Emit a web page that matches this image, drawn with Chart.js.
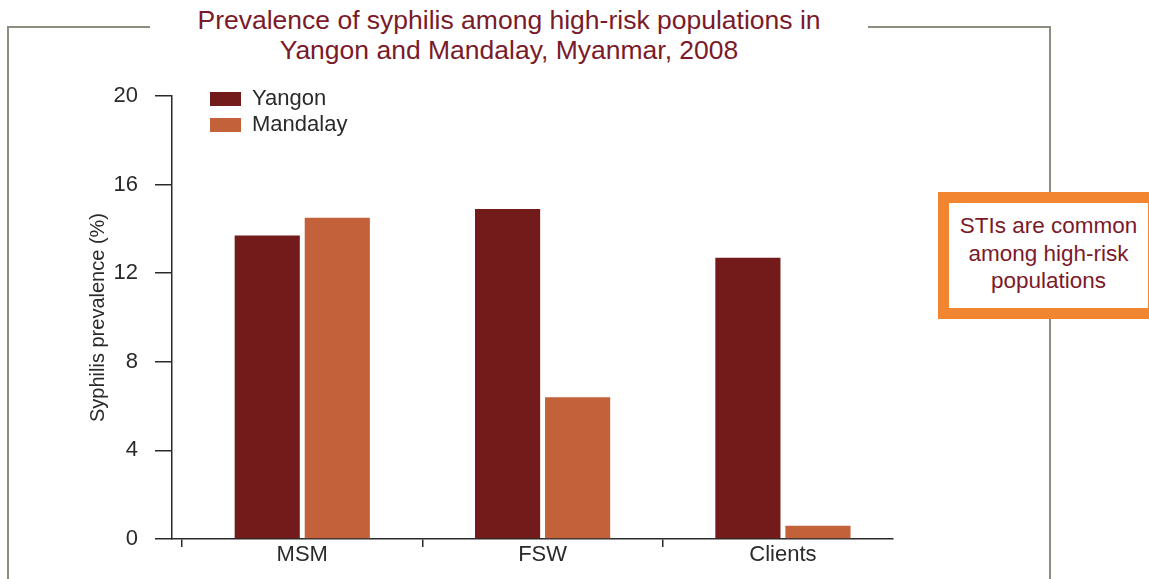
<!DOCTYPE html>
<html>
<head>
<meta charset="utf-8">
<script src="https://cdn.jsdelivr.net/npm/chart.js@4/dist/chart.umd.min.js"></script>
<style>
  html, body { margin: 0; padding: 0; background: #fff; }
  body { width: 1149px; height: 579px; position: relative; overflow: hidden; font-family: "Liberation Sans", Arial, sans-serif; }
  .frame { position: absolute; background: #8e8e80; }
  #title { position: absolute; left: 150px; width: 718px; top: 5px; text-align: center; color: #7a1a2a; font-size: 26.5px; line-height: 30px; }
  #note { position: absolute; left: 938px; top: 192px; width: 221px; height: 127px; box-sizing: border-box; border: 11px solid #f2852f; background: #fff;
          color: #7a1a2a; font-size: 22.5px; line-height: 27.5px; text-align: center; padding-top: 9px; }
  #chart { position: absolute; left: 0; top: 0; }
</style>
</head>
<body>
<div class="frame" style="left:7px; top:26px; width:2px; height:560px;"></div>
<div class="frame" style="left:7px; top:26px; width:143px; height:2px;"></div>
<div class="frame" style="left:868px; top:26px; width:183px; height:2px;"></div>
<div class="frame" style="left:1049px; top:26px; width:2px; height:560px;"></div>
<div id="title">Prevalence of syphilis among high-risk populations in<br>Yangon and Mandalay, Myanmar, 2008</div>
<canvas id="chart" width="1149" height="579"></canvas>
<div id="note">STIs are common<br>among high-risk<br>populations</div>
<script>
// ===== Data =====
var categories = ['MSM', 'FSW', 'Clients'];
var seriesNames = ['Yangon', 'Mandalay'];
var yangon   = [13.7, 14.9, 12.7];
var mandalay = [14.5, 6.4, 0.6];
var yTicks   = [0, 4, 8, 12, 16, 20];

var FONT = "'Liberation Sans', Arial, sans-serif";
var INK = '#2a2a2a';

// nudge the in-chart legend to where the original has it
var legendPlace = {
  id: 'legendPlace',
  afterLayout: function(chart) {
    if (!chart.legend) return;
    chart.legend.left = 206;
    chart.legend.top = 84;
  }
};

new Chart(document.getElementById('chart'), {
  type: 'bar',
  data: {
    labels: categories,
    datasets: [
      { label: seriesNames[0], data: yangon,   backgroundColor: '#731a1a' },
      { label: seriesNames[1], data: mandalay, backgroundColor: '#c3613a' },
    ],
  },
  options: {
    responsive: false,
    animation: false,
    categoryPercentage: 0.583,
    barPercentage: 0.93,
    layout: { padding: { left: 0, top: 96, right: 256, bottom: 0 } },
    plugins: {
      legend: {
        position: 'chartArea',
        align: 'start',
        labels: { boxWidth: 31, boxHeight: 14, padding: 4, color: INK, font: { family: FONT, size: 22 } },
      },
      tooltip: { enabled: false },
    },
    scales: {
      x: {
        grid: { display: true, drawOnChartArea: false, offset: true, tickLength: 8, color: INK, lineWidth: 1.5 },
        border: { color: INK, width: 1.5 },
        ticks: { color: INK, padding: -5, font: { family: FONT, size: 22 } },
        // groups in the original sit a little right of their slot centres
        afterBuildTicks: function(s) { s._startValue -= 0.042; },
        afterFit: function(s) { s.height = 40; },
      },
      y: {
        min: 0,
        max: 20,
        afterBuildTicks: function(s) { s.ticks = yTicks.map(function(v) { return { value: v }; }); },
        grid: { drawOnChartArea: false, tickLength: 17, color: INK, lineWidth: 1.5 },
        border: { color: INK, width: 1.5 },
        ticks: { color: INK, padding: 17, font: { family: FONT, size: 22 } },
        title: { display: true, text: 'Syphilis prevalence (%)', color: INK, padding: { top: 86 }, font: { family: FONT, size: 20 } },
        afterFit: function(s) { s.width = 172; },
      },
    },
  },
  plugins: [legendPlace],
});
</script>
</body>
</html>
